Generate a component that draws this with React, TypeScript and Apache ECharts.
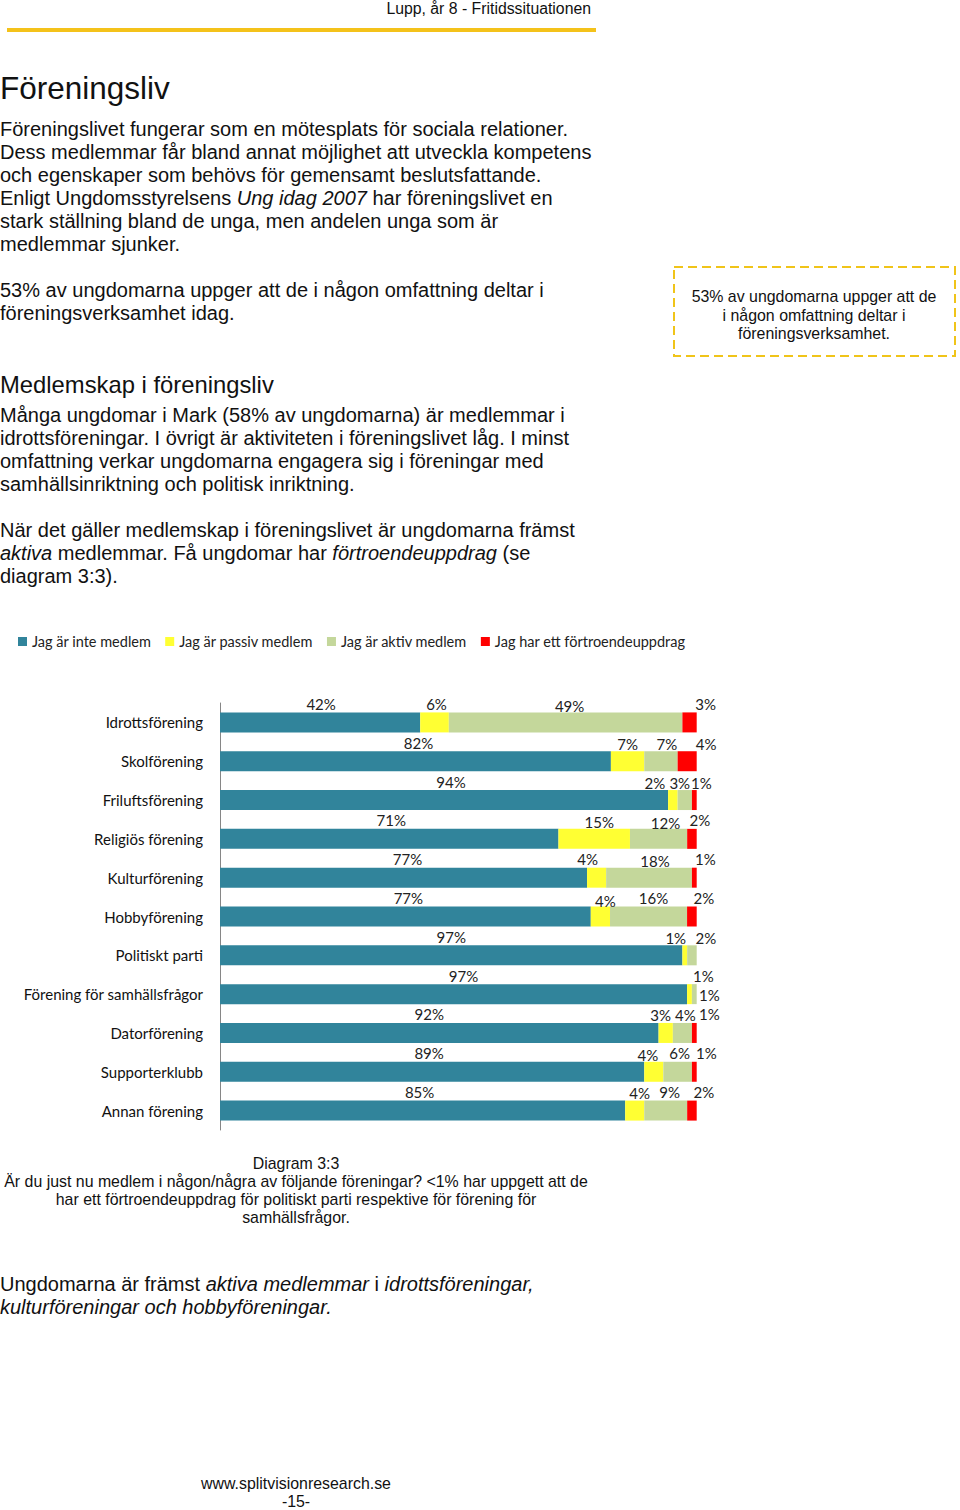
import React, { useEffect, useRef } from 'react';
import * as echarts from 'echarts';

const categories = [
  'Idrottsförening',
  'Skolförening',
  'Friluftsförening',
  'Religiös förening',
  'Kulturförening',
  'Hobbyförening',
  'Politiskt parti',
  'Förening för samhällsfrågor',
  'Datorförening',
  'Supporterklubb',
  'Annan förening',
];
const seriesNames = [
  'Jag är inte medlem',
  'Jag är passiv medlem',
  'Jag är aktiv medlem',
  'Jag har ett förtroendeuppdrag',
];
const notMember = [42, 82, 94, 71, 77, 77, 97, 97, 92, 89, 85];
const passive = [6, 7, 2, 15, 4, 4, 1, 1, 3, 4, 4];
const active = [49, 7, 3, 12, 18, 16, 2, 1, 4, 6, 9];
const trusted = [3, 4, 1, 2, 1, 2, 0, 0, 1, 1, 2];

// label nudges (styling only), per series, per row
const nudgeX = [
  [1, 3, 7, 2, 4, 3, 0, 10, -10, -3, -3],
  [2, 0, -18, 5, -9, 5, -9, 14, -5, -6, 5],
  [4, 6, -5, 7, 6, 5, 14, 15, 3, 2, 4],
  [16, 19, 7, 8, 11, 12, 0, 0, 15, 12, 12],
];
const nudgeY = [
  [0, 0, 0, 0, 0, 0, 0, 0, 0, 0, 0],
  [0, 1, 1, 2, 0, 3, 1, 0, 1, 2, 1],
  [2, 1, 1, 3, 2, 0, 1, 19, 1, 0, 0],
  [0, 1, 1, 0, 0, 0, 0, 0, 0, 0, 0],
];

const colors = ['#31849b', '#ffff33', '#c4d79b', '#ff0000'];

const SANS = '"Liberation Sans", Arial, sans-serif';
const CHART_FONT = 'Lato, "Open Sans", sans-serif';

function txt(x: number, y: number, text: string, size: number, opts: any = {}) {
  const rich = {
    i: { fontStyle: 'italic', fontSize: size, fontFamily: SANS, fill: '#111' },
    n: { fontSize: size, fontFamily: SANS, fill: '#111' },
  };
  return {
    type: 'text',
    x,
    y,
    silent: true,
    style: {
      text,
      fontSize: size,
      fontFamily: SANS,
      fill: '#111',
      textAlign: opts.align || 'left',
      textVerticalAlign: 'middle',
      fontStyle: opts.italic ? 'italic' : 'normal',
      rich,
    },
  };
}

export default function App() {
  const ref = useRef<HTMLDivElement>(null);
  useEffect(() => {
    if (!ref.current) return;
    const chart = echarts.init(ref.current, undefined, { renderer: 'svg' });
    const raw = [notMember, passive, active, trusted];
    const totals = categories.map((_, i) => raw.reduce((s, arr) => s + arr[i], 0));

    const series = raw.map((arr, si) => ({
      name: seriesNames[si],
      type: 'bar',
      stack: 'total',
      barWidth: 20,
      itemStyle: { color: colors[si] },
      label: {
        show: true,
        position: 'top',
        distance: 1,
        color: '#222',
        fontSize: 15,
        fontFamily: CHART_FONT,
        formatter: (p: any) => (arr[p.dataIndex] > 0 ? arr[p.dataIndex] + '%' : ''),
      },
      labelLayout: (p: any) => ({
        dx: nudgeX[si][p.dataIndex],
        dy: nudgeY[si][p.dataIndex],
        hideOverlap: false,
      }),
      data: arr.map((v, i) => (v / totals[i]) * 100),
    }));

    const graphic: any[] = [
      txt(591, 8, 'Lupp, år 8 - Fritidssituationen', 15.8, { align: 'right' }),
      { type: 'rect', silent: true, shape: { x: 7, y: 28, width: 589, height: 4 }, style: { fill: '#f4c21a' } },
      txt(0, 88, 'Föreningsliv', 31.5),
      txt(0, 129, 'Föreningslivet fungerar som en mötesplats för sociala relationer.', 20),
      txt(0, 152, 'Dess medlemmar får bland annat möjlighet att utveckla kompetens', 20),
      txt(0, 175, 'och egenskaper som behövs för gemensamt beslutsfattande.', 20),
      txt(0, 198, '{n|Enligt Ungdomsstyrelsens }{i|Ung idag 2007}{n| har föreningslivet en}', 20),
      txt(0, 221, 'stark ställning bland de unga, men andelen unga som är', 20),
      txt(0, 244, 'medlemmar sjunker.', 20),
      txt(0, 290, '53% av ungdomarna uppger att de i någon omfattning deltar i', 20),
      txt(0, 313, 'föreningsverksamhet idag.', 20),
      {
        type: 'rect',
        silent: true,
        shape: { x: 674, y: 267, width: 281, height: 89 },
        style: { fill: 'none', stroke: '#f0c419', lineWidth: 2, lineDash: [9, 5] },
      },
      txt(814, 296, '53% av ungdomarna uppger att de', 15.9, { align: 'center' }),
      txt(814, 315, 'i någon omfattning deltar i', 15.9, { align: 'center' }),
      txt(814, 333, 'föreningsverksamhet.', 15.9, { align: 'center' }),
      txt(0, 384, 'Medlemskap i föreningsliv', 23.8),
      txt(0, 415, 'Många ungdomar i Mark (58% av ungdomarna) är medlemmar i', 20),
      txt(0, 438, 'idrottsföreningar. I övrigt är aktiviteten i föreningslivet låg. I minst', 20),
      txt(0, 461, 'omfattning verkar ungdomarna engagera sig i föreningar med', 20),
      txt(0, 484, 'samhällsinriktning och politisk inriktning.', 20),
      txt(0, 530, 'När det gäller medlemskap i föreningslivet är ungdomarna främst', 20),
      txt(0, 553, '{i|aktiva}{n| medlemmar. Få ungdomar har }{i|förtroendeuppdrag}{n| (se}', 20),
      txt(0, 576, 'diagram 3:3).', 20),
      txt(296, 1163, 'Diagram 3:3', 15.9, { align: 'center' }),
      txt(296, 1181, 'Är du just nu medlem i någon/några av följande föreningar? <1% har uppgett att de', 15.9, { align: 'center' }),
      txt(296, 1199, 'har ett förtroendeuppdrag för politiskt parti respektive för förening för', 15.9, { align: 'center' }),
      txt(296, 1217, 'samhällsfrågor.', 15.9, { align: 'center' }),
      txt(0, 1284, '{n|Ungdomarna är främst }{i|aktiva medlemmar}{n| i }{i|idrottsföreningar,}', 20),
      txt(0, 1307, 'kulturföreningar och hobbyföreningar.', 20, { italic: true }),
      txt(296, 1483, 'www.splitvisionresearch.se', 15.9, { align: 'center' }),
      txt(296, 1501, '-15-', 15.9, { align: 'center' }),
    ];

    chart.setOption({
      animation: false,
      backgroundColor: '#ffffff',
      legend: {
        left: 18,
        top: 634,
        padding: 0,
        itemWidth: 9,
        itemHeight: 9,
        itemGap: 14,
        icon: 'rect',
        data: seriesNames,
        textStyle: { fontSize: 14.5, fontFamily: CHART_FONT, color: '#222' },
      },
      grid: { left: 220, top: 703, width: 476.7, height: 427, containLabel: false, outerBoundsMode: 'none' },
      xAxis: {
        type: 'value',
        min: 0,
        max: 100,
        show: false,
      },
      yAxis: {
        type: 'category',
        inverse: true,
        data: categories,
        axisLine: { show: true, lineStyle: { color: '#868686', width: 1 } },
        axisTick: { show: false },
        axisLabel: { fontSize: 15, fontFamily: CHART_FONT, color: '#111', margin: 17 },
      },
      series,
      graphic,
    });
    return () => chart.dispose();
  }, []);
  return (
    <div
      ref={ref}
      style={{ position: 'absolute', left: 0, top: 0, width: 960, height: 1510, background: '#fff' }}
    />
  );
}
